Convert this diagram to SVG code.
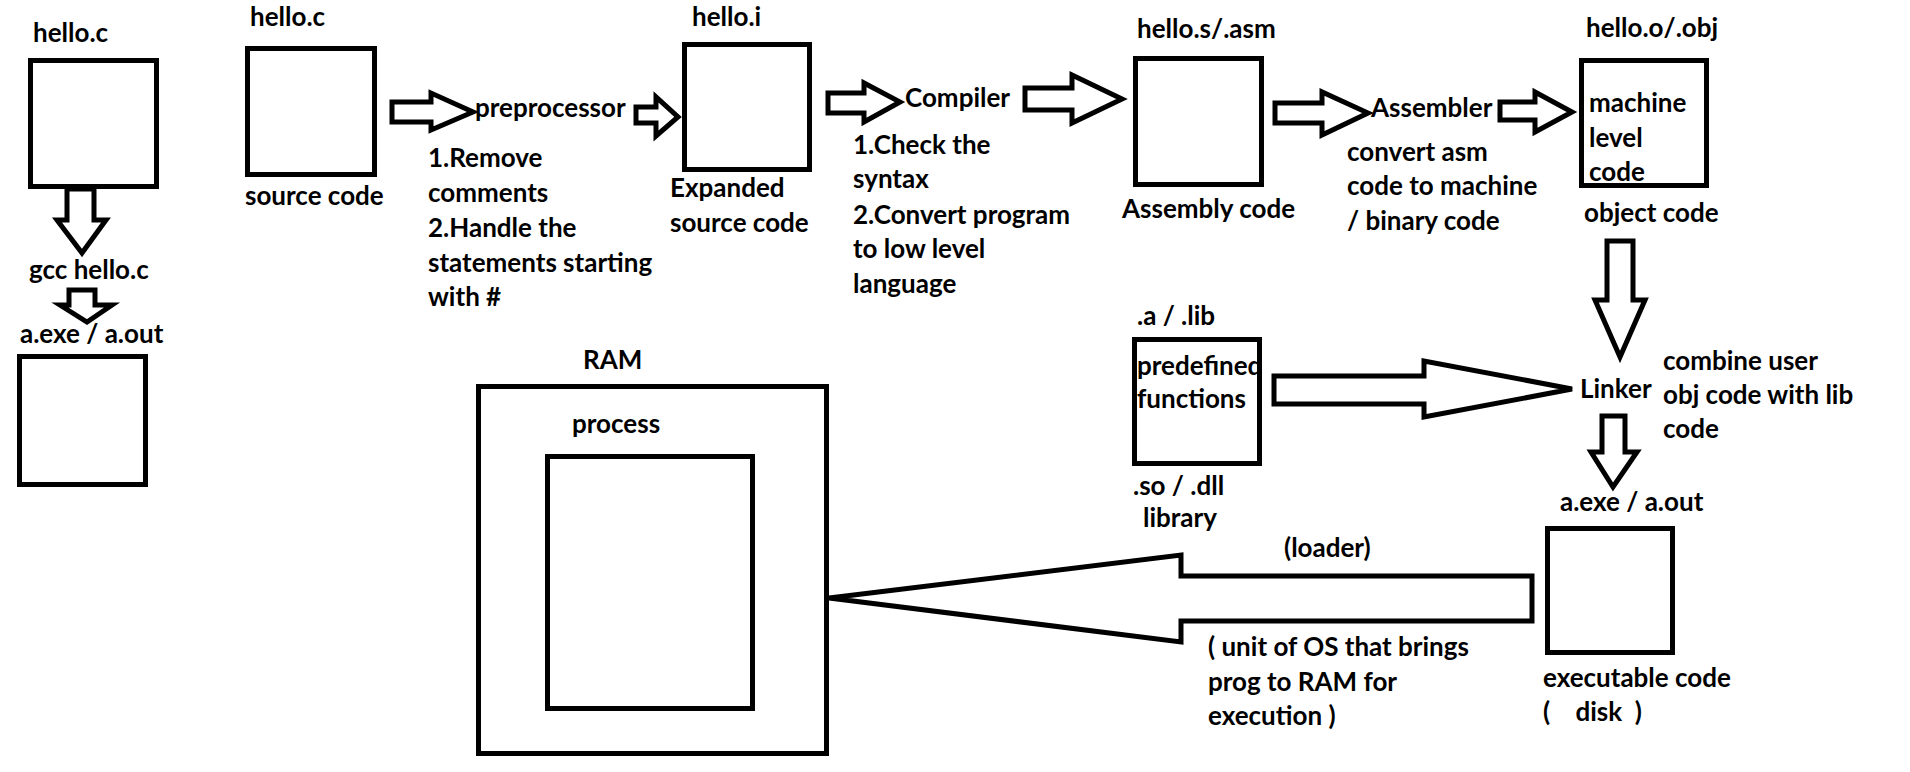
<svg xmlns="http://www.w3.org/2000/svg" width="1910" height="772" viewBox="0 0 1910 772">
<style>
text{font-family:Lato,"Liberation Sans",sans-serif;font-weight:bold;font-size:26px;fill:#000}
.box{fill:none;stroke:#000;stroke-width:5}
.arr{fill:#fff;stroke:#000;stroke-width:5;stroke-linejoin:miter}
</style>
<rect width="1910" height="772" fill="#fff"/>
<g id="n-hello-c-1"><text x="33" y="42">hello.c</text><rect class="box" x="30.5" y="60.5" width="126" height="126"/></g>
<g id="n-gcc"><text x="29" y="279">gcc hello.c</text></g>
<g id="n-aexe-left"><text x="20" y="343">a.exe / a.out</text><rect class="box" x="19.5" y="356.5" width="126" height="128"/></g>
<g id="n-source"><text x="250" y="26">hello.c</text><rect class="box" x="247.5" y="48.5" width="127" height="126"/><text x="245" y="205">source code</text></g>
<g id="n-preprocessor"><text x="475" y="117">preprocessor</text>
<text x="428" y="167">1.Remove</text><text x="428" y="202">comments</text><text x="428" y="237">2.Handle the</text><text x="428" y="272">statements starting</text><text x="428" y="306">with #</text></g>
<g id="n-hello-i"><text x="692" y="26">hello.i</text><rect class="box" x="684.5" y="44.5" width="125" height="125"/><text x="670" y="197">Expanded</text><text x="670" y="232">source code</text></g>
<g id="n-compiler"><text x="905" y="107">Compiler</text>
<text x="853" y="154">1.Check the</text><text x="853" y="188">syntax</text><text x="853" y="224">2.Convert program</text><text x="853" y="258">to low level</text><text x="853" y="293">language</text></g>
<g id="n-asm"><text x="1137" y="38">hello.s/.asm</text><rect class="box" x="1135.5" y="58.5" width="126" height="126"/><text x="1122" y="218">Assembly code</text></g>
<g id="n-assembler"><text x="1371" y="117">Assembler</text><text x="1347" y="161">convert asm</text><text x="1347" y="195">code to machine</text><text x="1347" y="230">/ binary code</text></g>
<g id="n-obj"><text x="1586" y="37">hello.o/.obj</text><rect class="box" x="1581.5" y="60.5" width="125" height="125"/><text x="1589" y="112">machine</text><text x="1589" y="147">level</text><text x="1589" y="181">code</text><text x="1584" y="222">object code</text></g>
<g id="n-lib"><text x="1137" y="325">.a / .lib</text><text x="1137" y="375">predefined</text><text x="1137" y="408">functions</text><rect class="box" x="1134.5" y="339.5" width="125" height="124"/><text x="1133" y="495">.so / .dll</text><text x="1143" y="527">library</text></g>
<g id="n-linker"><text x="1580" y="398">Linker</text><text x="1663" y="370">combine user</text><text x="1663" y="404">obj code with lib</text><text x="1663" y="438">code</text></g>
<g id="n-exe"><text x="1560" y="511">a.exe / a.out</text><rect class="box" x="1547.5" y="528.5" width="125" height="124"/><text x="1543" y="687">executable code</text><text x="1543" y="721" xml:space="preserve">(    disk  )</text></g>
<g id="n-ram"><text x="583" y="369">RAM</text><rect class="box" x="478.5" y="386.5" width="348" height="367"/><text x="572" y="433">process</text><rect class="box" x="547.5" y="456.5" width="205" height="252"/></g>
<g id="n-loader"><text x="1284" y="557">(loader)</text><text x="1208" y="656">( unit of OS that brings</text><text x="1208" y="691">prog to RAM for</text><text x="1208" y="725">execution )</text></g>
<g id="connectors">
<polygon class="arr" points="67,189 94,189 94,220 106,220 82,253 57,220 67,220"/>
<polygon class="arr" points="69,290 95,290 95,305 112,305 87,322 60,305 69,305"/>
<polygon class="arr" points="392,102 431,102 431,93 473,112 431,130 431,122 392,122"/>
<polygon class="arr" points="636,107 656,107 656,97 678,117 656,136 656,123 636,123"/>
<polygon class="arr" points="828,93 864,93 864,83 900,102 864,122 864,113 828,113"/>
<polygon class="arr" points="1025,88 1072,88 1072,75 1122,99 1072,123 1072,110 1025,110"/>
<polygon class="arr" points="1275,103 1322,103 1322,92 1368,113 1322,135 1322,123 1275,123"/>
<polygon class="arr" points="1500,102 1535,102 1535,92 1572,112 1535,132 1535,120 1500,120"/>
<polygon class="arr" points="1607,241 1633,241 1633,300 1645,300 1620,357 1595,300 1607,300"/>
<polygon class="arr" points="1274,376 1424,376 1424,361 1572,389 1424,417 1424,404 1274,404"/>
<polygon class="arr" points="1602,416 1625,416 1625,452 1637,452 1613,487 1591,452 1602,452"/>
<polygon class="arr" points="1532,576 1532,621 1181,621 1181,642 829,598 1181,555 1181,576"/>
</g>
</svg>
